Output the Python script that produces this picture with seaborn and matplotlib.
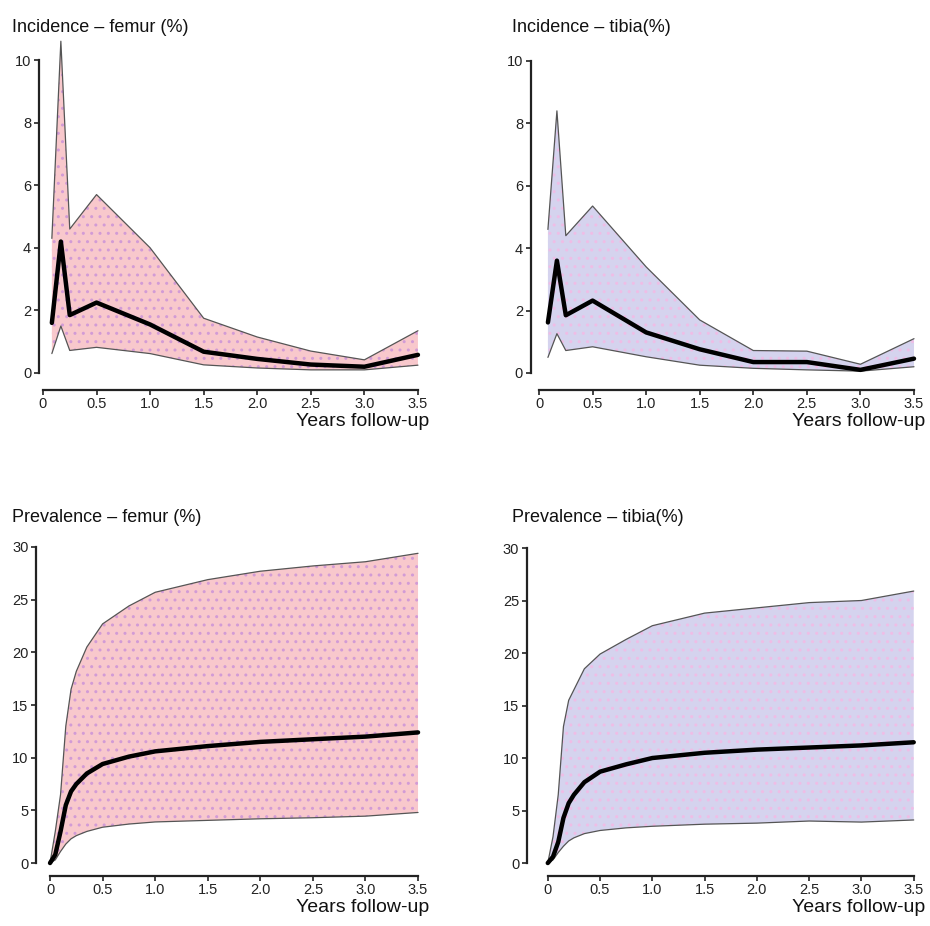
import matplotlib
matplotlib.use("Agg")
import matplotlib.pyplot as plt
import numpy as np
import pandas as pd
import seaborn as sns

# incidence (%) at follow-up times (years)
inc_years = [0.083, 0.167, 0.25, 0.5, 1.0, 1.5, 2.0, 2.5, 3.0, 3.5]
inc_femur_mean = [1.6, 4.2, 1.85, 2.25, 1.55, 0.68, 0.45, 0.27, 0.2, 0.58]
inc_femur_low = [0.62, 1.5, 0.72, 0.82, 0.62, 0.26, 0.16, 0.1, 0.1, 0.25]
inc_femur_high = [4.3, 10.6, 4.6, 5.7, 4.0, 1.75, 1.15, 0.7, 0.42, 1.35]

inc_tibia_mean = [1.62, 3.6, 1.85, 2.32, 1.3, 0.76, 0.35, 0.35, 0.1, 0.46]
inc_tibia_low = [0.5, 1.26, 0.72, 0.84, 0.52, 0.25, 0.15, 0.1, 0.06, 0.2]
inc_tibia_high = [4.6, 8.4, 4.4, 5.35, 3.4, 1.7, 0.72, 0.7, 0.28, 1.1]

# prevalence (%) at follow-up times (years)
prev_years = [0, 0.05, 0.1, 0.15, 0.2, 0.25, 0.35, 0.5, 0.75, 1.0, 1.5, 2.0, 2.5, 3.0, 3.5]
prev_femur_mean = [0, 0.8, 3.0, 5.5, 6.8, 7.5, 8.5, 9.4, 10.1, 10.6, 11.1, 11.5, 11.75, 12.0, 12.4]
prev_femur_low = [0, 0.3, 1.1, 1.8, 2.3, 2.6, 3.0, 3.4, 3.7, 3.9, 4.05, 4.2, 4.3, 4.45, 4.8]
prev_femur_high = [0, 3.0, 6.5, 13.0, 16.5, 18.2, 20.5, 22.7, 24.4, 25.7, 26.9, 27.7, 28.2, 28.6, 29.4]

prev_tibia_mean = [0, 0.6, 2.0, 4.3, 5.7, 6.5, 7.7, 8.7, 9.4, 10.0, 10.5, 10.8, 11.0, 11.2, 11.5]
prev_tibia_low = [0, 0.3, 1.0, 1.6, 2.1, 2.4, 2.8, 3.1, 3.35, 3.5, 3.7, 3.8, 4.0, 3.9, 4.1]
prev_tibia_high = [0, 2.5, 6.5, 13.0, 15.5, 16.5, 18.5, 19.9, 21.3, 22.6, 23.8, 24.3, 24.8, 25.0, 25.9]

titles = ["Incidence – femur (%)", "Incidence – tibia(%)",
          "Prevalence – femur (%)", "Prevalence – tibia(%)"]
x_ticks = [0, 0.5, 1.0, 1.5, 2.0, 2.5, 3.0, 3.5]
x_ticklabels = ["0", "0.5", "1.0", "1.5", "2.0", "2.5", "3.0", "3.5"]

pink = "#f8c8cc"
lilac = "#d5d3ee"

sns.set_style("white")
plt.rcParams["font.family"] = ["Liberation Sans", "DejaVu Sans"]
plt.rcParams["hatch.linewidth"] = 1.0

fig = plt.figure(figsize=(9.3, 9.26), dpi=100)

panels = [
    # rect, x, mean, low, high, fill, dots, ymax, yticks, left_out, bottom_out
    ([0.0462, 0.5972, 0.4032, 0.338], inc_years, inc_femur_mean, inc_femur_low, inc_femur_high,
     pink, "#d29bd6", 10, [0, 2, 4, 6, 8, 10], 3, 12),
    ([0.5796, 0.5972, 0.4032, 0.337], inc_years, inc_tibia_mean, inc_tibia_low, inc_tibia_high,
     lilac, "#efbde6", 10, [0, 2, 4, 6, 8, 10], 6, 12),
    ([0.0538, 0.068, 0.3957, 0.3413], prev_years, prev_femur_mean, prev_femur_low, prev_femur_high,
     pink, "#d29bd6", 30, [0, 5, 10, 15, 20, 25, 30], 10, 9),
    ([0.589, 0.068, 0.3935, 0.3402], prev_years, prev_tibia_mean, prev_tibia_low, prev_tibia_high,
     lilac, "#efbde6", 30, [0, 5, 10, 15, 20, 25, 30], 15, 9),
]

for i, (rect, xs, mean, low, high, fc, dc, ymax, yticks, lo, bo) in enumerate(panels):
    ax = fig.add_axes(rect)
    df = pd.DataFrame({"years": xs, "mean": mean, "low": low, "high": high})
    ax.fill_between(df["years"], df["low"], df["high"], facecolor=fc,
                    edgecolor="none", clip_on=False, zorder=1)
    ax.fill_between(df["years"], df["low"], df["high"], facecolor="none",
                    edgecolor=dc, hatch="..", linewidth=0, clip_on=False, zorder=1.5)
    sns.lineplot(data=df, x="years", y="high", ax=ax, color="#555555", lw=0.9,
                 clip_on=False, zorder=2)
    sns.lineplot(data=df, x="years", y="low", ax=ax, color="#555555", lw=0.9,
                 clip_on=False, zorder=2)
    sns.lineplot(data=df, x="years", y="mean", ax=ax, color="black", lw=3.2,
                 clip_on=False, zorder=3)
    ax.set_xlim(0, 3.5)
    ax.set_ylim(0, ymax)
    ax.set_xticks(x_ticks)
    ax.set_xticklabels(x_ticklabels)
    ax.set_yticks(yticks)
    ax.set_xlabel("")
    ax.set_ylabel("")
    for s in ["top", "right"]:
        ax.spines[s].set_visible(False)
    ax.spines["left"].set_position(("outward", lo))
    ax.spines["bottom"].set_position(("outward", bo))
    for s in ["left", "bottom"]:
        ax.spines[s].set_color("#222222")
        ax.spines[s].set_linewidth(1.6)
    ax.tick_params(axis="both", direction="out", length=3.5, width=1.2,
                   colors="#222222", labelsize=10.5, pad=2, left=True, bottom=True)
    ax.set_facecolor("none")
    # title and axis label as plain text, like the original
    col = 0 if i % 2 == 0 else 1
    tx = 0.013 if col == 0 else 0.551
    ty = 0.970 if i < 2 else 0.441
    fig.text(tx, ty, titles[i], fontsize=13, ha="left", va="center", color="#111111")
    lx = 0.462 if col == 0 else 0.995
    ly = 0.5445 if i < 2 else 0.0195
    fig.text(lx, ly, "Years follow-up", fontsize=14, ha="right", va="center", color="#111111")

fig.savefig("out.png", dpi=100)
